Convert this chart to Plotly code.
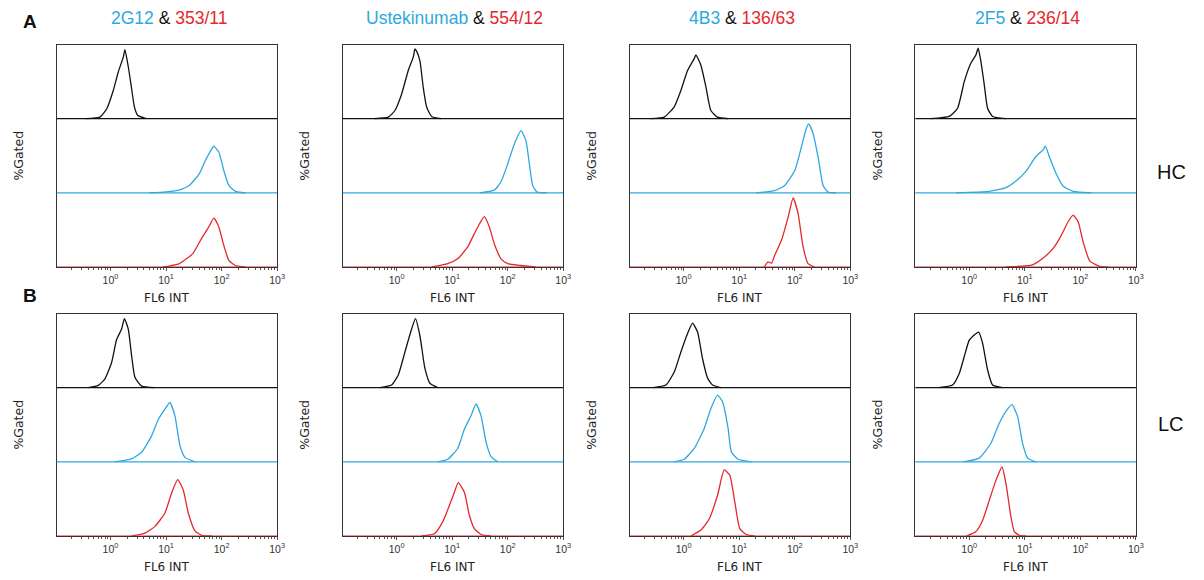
import plotly.graph_objects as go

# ---------------- data (log10 FL6 INT positions, band-relative heights) ----------------
ANTIBODY_BLUE = ["2G12", "Ustekinumab", "4B3", "2F5"]
ANTIBODY_RED = ["353/11", "554/12", "136/63", "236/14"]
ROW_LABELS = ["HC", "LC"]
PANEL_LETTERS = ["A", "B"]
TICK_VALS = [1, 10, 100, 1000]
TICK_TEXT = ["10<sup>0</sup>", "10<sup>1</sup>", "10<sup>2</sup>", "10<sup>3</sup>"]
MINOR_MULT = [2, 3, 4, 5, 6, 7, 8, 9]
MINOR_DECADES = [0.1, 1, 10, 100]

# HC row
P1_K_LX = [-0.45, -0.19, -0.07, 0.05, 0.14, 0.23, 0.26, 0.32, 0.375, 0.43, 0.49, 0.64]
P1_K_H = [0, 0.02, 0.13, 0.38, 0.63, 0.83, 0.93, 0.7, 0.43, 0.16, 0.045, 0]
P1_B_LX = [0.7, 1.0, 1.24, 1.42, 1.6, 1.71, 1.83, 1.86, 1.95, 2.04, 2.13, 2.25, 2.43]
P1_B_H = [0, 0.013, 0.036, 0.1, 0.26, 0.44, 0.6, 0.63, 0.55, 0.3, 0.1, 0.02, 0]
P1_R_LX = [0.94, 1.06, 1.24, 1.48, 1.65, 1.77, 1.86, 1.95, 2.04, 2.13, 2.25, 2.43]
P1_R_H = [0, 0.013, 0.045, 0.18, 0.4, 0.54, 0.66, 0.54, 0.29, 0.09, 0.02, 0]

P2_K_LX = [-0.4, -0.15, -0.03, 0.09, 0.21, 0.30, 0.33, 0.36, 0.42, 0.48, 0.54, 0.63, 0.8]
P2_K_H = [0, 0.02, 0.11, 0.33, 0.65, 0.83, 0.94, 0.91, 0.78, 0.42, 0.16, 0.03, 0]
P2_B_LX = [1.5, 1.76, 1.88, 2.0, 2.12, 2.24, 2.33, 2.39, 2.45, 2.53, 2.7]
P2_B_H = [0, 0.036, 0.15, 0.39, 0.66, 0.84, 0.7, 0.39, 0.1, 0.01, 0]
P2_R_LX = [0.63, 0.92, 1.1, 1.28, 1.4, 1.49, 1.58, 1.67, 1.76, 1.88, 2.0, 2.24, 2.5]
P2_R_H = [0, 0.045, 0.11, 0.27, 0.45, 0.58, 0.68, 0.54, 0.31, 0.11, 0.045, 0.02, 0]

P3_K_LX = [-0.6, -0.35, -0.17, -0.05, 0.07, 0.19, 0.22, 0.31, 0.40, 0.49, 0.61, 0.8]
P3_K_H = [0, 0.02, 0.16, 0.38, 0.65, 0.81, 0.86, 0.72, 0.43, 0.11, 0.02, 0]
P3_B_LX = [1.3, 1.64, 1.82, 2.0, 2.12, 2.2, 2.25, 2.33, 2.42, 2.51, 2.6, 2.75]
P3_B_H = [0, 0.03, 0.1, 0.3, 0.62, 0.85, 0.93, 0.8, 0.48, 0.1, 0.01, 0]
P3_R_LX = [1.45, 1.52, 1.58, 1.64, 1.76, 1.88, 1.97, 2.06, 2.15, 2.24, 2.36]
P3_R_H = [0, 0.07, 0.05, 0.16, 0.36, 0.67, 0.93, 0.72, 0.27, 0.045, 0]

P4_K_LX = [-0.7, -0.36, -0.21, -0.09, 0.03, 0.12, 0.16, 0.21, 0.27, 0.33, 0.42, 0.66]
P4_K_H = [0, 0.03, 0.14, 0.5, 0.75, 0.86, 0.95, 0.77, 0.46, 0.14, 0.03, 0]
P4_B_LX = [-0.24, 0.36, 0.66, 0.84, 1.02, 1.2, 1.33, 1.37, 1.45, 1.57, 1.69, 1.87, 2.2]
P4_B_H = [0, 0.02, 0.07, 0.16, 0.29, 0.49, 0.58, 0.63, 0.47, 0.25, 0.09, 0.02, 0]
P4_R_LX = [0.66, 1.14, 1.33, 1.51, 1.66, 1.78, 1.87, 1.96, 2.05, 2.17, 2.35, 2.5]
P4_R_H = [0, 0.03, 0.12, 0.25, 0.43, 0.61, 0.7, 0.61, 0.34, 0.08, 0.01, 0]

# LC row
P5_K_LX = [-0.4, -0.22, -0.1, 0.02, 0.11, 0.2, 0.25, 0.32, 0.38, 0.44, 0.56, 0.8]
P5_K_H = [0, 0.03, 0.12, 0.34, 0.65, 0.79, 0.93, 0.79, 0.43, 0.14, 0.02, 0]
P5_B_LX = [0.08, 0.38, 0.56, 0.74, 0.86, 0.98, 1.07, 1.16, 1.25, 1.34, 1.52]
P5_B_H = [0, 0.04, 0.13, 0.35, 0.57, 0.71, 0.8, 0.62, 0.22, 0.06, 0]
P5_R_LX = [0.38, 0.62, 0.8, 0.98, 1.1, 1.21, 1.31, 1.4, 1.52, 1.64, 1.82]
P5_R_H = [0, 0.04, 0.13, 0.31, 0.58, 0.76, 0.62, 0.31, 0.07, 0.01, 0]

P6_K_LX = [-0.3, -0.09, 0.03, 0.15, 0.27, 0.34, 0.42, 0.51, 0.6, 0.74]
P6_K_H = [0, 0.035, 0.17, 0.48, 0.79, 0.93, 0.7, 0.26, 0.06, 0]
P6_B_LX = [0.74, 0.92, 1.1, 1.22, 1.34, 1.43, 1.52, 1.61, 1.7, 1.82]
P6_B_H = [0, 0.035, 0.18, 0.44, 0.62, 0.78, 0.62, 0.27, 0.07, 0]
P6_R_LX = [0.45, 0.68, 0.83, 0.95, 1.04, 1.11, 1.22, 1.31, 1.4, 1.52, 1.7]
P6_R_H = [0, 0.03, 0.19, 0.41, 0.59, 0.72, 0.59, 0.28, 0.1, 0.02, 0]

P7_K_LX = [-0.55, -0.32, -0.17, -0.05, 0.07, 0.16, 0.25, 0.34, 0.43, 0.52, 0.67]
P7_K_H = [0, 0.035, 0.21, 0.48, 0.73, 0.87, 0.75, 0.39, 0.13, 0.035, 0]
P7_B_LX = [-0.17, 0.01, 0.19, 0.37, 0.49, 0.61, 0.7, 0.8, 0.86, 0.98, 1.22]
P7_B_H = [0, 0.035, 0.18, 0.45, 0.72, 0.9, 0.81, 0.45, 0.13, 0.035, 0]
P7_R_LX = [0.13, 0.31, 0.46, 0.61, 0.73, 0.83, 0.92, 1.01, 1.13, 1.28]
P7_R_H = [0, 0.08, 0.23, 0.55, 0.89, 0.82, 0.46, 0.1, 0.02, 0]

P8_K_LX = [-0.55, -0.3, -0.18, -0.09, 0.0, 0.09, 0.17, 0.24, 0.33, 0.42, 0.6]
P8_K_H = [0, 0.035, 0.19, 0.42, 0.64, 0.71, 0.75, 0.6, 0.24, 0.035, 0]
P8_B_LX = [-0.1, 0.18, 0.39, 0.54, 0.66, 0.77, 0.87, 0.96, 1.05, 1.2]
P8_B_H = [0, 0.05, 0.25, 0.52, 0.68, 0.77, 0.61, 0.25, 0.05, 0]
P8_R_LX = [-0.05, 0.12, 0.24, 0.36, 0.48, 0.59, 0.66, 0.75, 0.81, 0.9, 1.02]
P8_R_H = [0, 0.06, 0.21, 0.48, 0.75, 0.93, 0.71, 0.26, 0.06, 0.01, 0]

PANELS = [
    (P1_K_LX, P1_K_H, P1_B_LX, P1_B_H, P1_R_LX, P1_R_H),
    (P2_K_LX, P2_K_H, P2_B_LX, P2_B_H, P2_R_LX, P2_R_H),
    (P3_K_LX, P3_K_H, P3_B_LX, P3_B_H, P3_R_LX, P3_R_H),
    (P4_K_LX, P4_K_H, P4_B_LX, P4_B_H, P4_R_LX, P4_R_H),
    (P5_K_LX, P5_K_H, P5_B_LX, P5_B_H, P5_R_LX, P5_R_H),
    (P6_K_LX, P6_K_H, P6_B_LX, P6_B_H, P6_R_LX, P6_R_H),
    (P7_K_LX, P7_K_H, P7_B_LX, P7_B_H, P7_R_LX, P7_R_H),
    (P8_K_LX, P8_K_H, P8_B_LX, P8_B_H, P8_R_LX, P8_R_H),
]

# ---------------- style / layout ----------------
W, H = 1204, 580
BLACK = "#111111"
BLUE = "#2ea8e0"
RED = "#e4282c"
COL_LEFT = [57, 345, 634, 921.5]
ROW_TOP = [44.5, 313.5]
PW, PH = 222, 222.5
XRANGE = [-0.97, 3.0]
MINOR_VALS = [m * d for d in MINOR_DECADES for m in MINOR_MULT]


def ann(text, px, py, size, family="DejaVu Sans", angle=0, color="#222"):
    return dict(text=text, xref="paper", yref="paper", x=px / W, y=1 - py / H,
                xanchor="center", yanchor="middle", textangle=angle, showarrow=False,
                font=dict(family=family, size=size, color=color))


fig = go.Figure()
layout = dict(
    width=W, height=H, margin=dict(l=0, r=0, t=0, b=0),
    paper_bgcolor="white", plot_bgcolor="white", showlegend=False,
    font=dict(family="DejaVu Sans", color="#222"),
)
shapes, annotations = [], []

for i, (klx, kh, blx, bh, rlx, rh) in enumerate(PANELS):
    n = i + 1
    sfx = "" if n == 1 else str(n)
    row, col = divmod(i, 4)
    L, T = COL_LEFT[col], ROW_TOP[row]
    xa, ya = f"x{sfx}", f"y{sfx}"
    for lx, h, off, color in ((klx, kh, 2, BLACK), (blx, bh, 1, BLUE), (rlx, rh, 0, RED)):
        fig.add_trace(go.Scatter(
            x=[10 ** v for v in lx], y=[off + v for v in h], mode="lines",
            line=dict(color=color, width=1.3, shape="spline", smoothing=0.5),
            xaxis=xa, yaxis=ya, hoverinfo="skip"))
    for off, color in ((2, BLACK), (1, BLUE), (0, RED)):
        shapes.append(dict(type="line", xref=f"{xa} domain", yref=ya, x0=0, x1=1,
                           y0=off, y1=off, line=dict(color=color, width=1.2)))
    layout[f"xaxis{sfx}"] = dict(
        type="log", range=XRANGE, domain=[L / W, (L + PW) / W], anchor=ya,
        showline=True, mirror=True, linecolor="#333", linewidth=1,
        showgrid=False, zeroline=False, ticks="outside", ticklen=3, tickcolor="#555",
        tickmode="array", tickvals=TICK_VALS, ticktext=TICK_TEXT,
        tickfont=dict(family="Liberation Sans", size=10.5, color="#333"),
        minor=dict(tickmode="array", tickvals=MINOR_VALS, ticks="outside",
                   ticklen=2, tickcolor="#555", showgrid=False),
    )
    layout[f"yaxis{sfx}"] = dict(
        range=[0, 3], domain=[1 - (T + PH) / H, 1 - T / H], anchor=xa,
        showline=True, mirror=True, linecolor="#333", linewidth=1,
        showgrid=False, zeroline=False, showticklabels=False, ticks="",
    )
    annotations.append(ann("%Gated", L - 38, T + PH / 2, 12.5, angle=-90))
    annotations.append(ann("FL6 INT", L + PW / 2, T + PH + 31, 12))
    if row == 0:
        annotations.append(ann(
            f"<span style='color:{BLUE}'>{ANTIBODY_BLUE[col]}</span> &amp; "
            f"<span style='color:{RED}'>{ANTIBODY_RED[col]}</span>",
            L + PW / 2 + 2, 18, 17.5, family="Liberation Sans", color="#111"))

for r, (letter, lab) in enumerate(zip(PANEL_LETTERS, ROW_LABELS)):
    annotations.append(ann(f"<b>{letter}</b>", 30, 22 + r * 273, 19,
                           family="Liberation Sans", color="#111"))
    annotations.append(ann(lab, 1179, 172 + r * 252, 20,
                           family="Liberation Sans", color="#111"))

layout["shapes"] = shapes
layout["annotations"] = annotations
fig.update_layout(**layout)
fig.write_html("out.html")
